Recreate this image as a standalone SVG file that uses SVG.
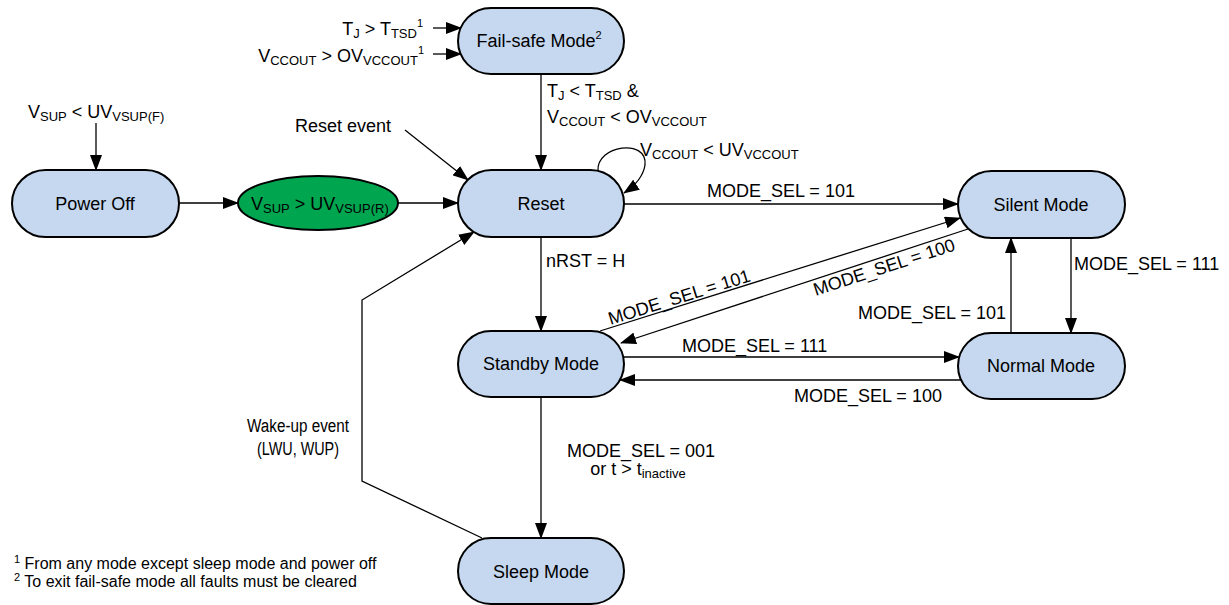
<svg xmlns="http://www.w3.org/2000/svg" width="1229" height="605" viewBox="0 0 1229 605">
<defs>
<marker id="ah" markerUnits="userSpaceOnUse" markerWidth="16" markerHeight="12" refX="15" refY="6" orient="auto">
<path d="M0 0 L16 6 L0 12 Z" fill="#000"/>
</marker>
<style>
text{font-family:"Liberation Sans",Arial,sans-serif;font-size:18px;fill:#000}
.node{fill:#c5d8ef;stroke:#000;stroke-width:2}
.green{fill:#00a550;stroke:#000;stroke-width:2}
.c{fill:none;stroke:#000;stroke-width:1.3;marker-end:url(#ah)}
.m{text-anchor:middle}
.e{text-anchor:end}
.s{font-size:13px}
.fn{font-size:16px}
.fs{font-size:11px}
</style>
</defs>
<g id="connectors">
<path class="c" d="M96 123 V170"/>
<path class="c" d="M179 203 H238"/>
<path class="c" d="M398 203 H458"/>
<path class="c" d="M405 130 L468 180"/>
<path class="c" d="M433 28 H461"/>
<path class="c" d="M433 54 H461"/>
<path class="c" d="M541 74 V170"/>
<path class="c" d="M598 171 C596 145 648 138 645 165 C643 178 633 187 624 193"/>
<path class="c" d="M541 237 V331"/>
<path class="c" d="M624 204 H958"/>
<path class="c" d="M600 331 L960 218"/>
<path class="c" d="M968 229 L621 343"/>
<path class="c" d="M623 357 H959"/>
<path class="c" d="M961 380 H620"/>
<path class="c" d="M1071 238 V333"/>
<path class="c" d="M1011 333 V238"/>
<path class="c" d="M541 397 V538"/>
<path class="c" d="M482 538 L362 481 V300 L474 232"/>
</g>
<g id="failsafe">
<rect class="node" x="458" y="8" width="166" height="66" rx="33"/>
<text x="539" y="47" class="m">Fail-safe Mode<tspan class="fs" dy="-8">2</tspan></text>
</g>
<g id="reset">
<rect class="node" x="458" y="170" width="166" height="67" rx="33.5"/>
<text x="541" y="210" class="m">Reset</text>
</g>
<g id="poweroff">
<rect class="node" x="12" y="170" width="167" height="67" rx="33.5"/>
<text x="95" y="210" class="m">Power Off</text>
</g>
<g id="vsup">
<ellipse class="green" cx="318" cy="203" rx="80" ry="27"/>
<text x="251" y="210">V<tspan class="s" dy="3">SUP</tspan><tspan dy="-3"> &gt; UV</tspan><tspan class="s" dy="3">VSUP(R)</tspan></text>
</g>
<g id="silent">
<rect class="node" x="958" y="171" width="167" height="67" rx="33.5"/>
<text x="1041" y="211" class="m">Silent Mode</text>
</g>
<g id="standby">
<rect class="node" x="458" y="331" width="166" height="66" rx="33"/>
<text x="541" y="370" class="m">Standby Mode</text>
</g>
<g id="normal">
<rect class="node" x="958" y="333" width="167" height="66" rx="33"/>
<text x="1041" y="372" class="m">Normal Mode</text>
</g>
<g id="sleep">
<rect class="node" x="458" y="538" width="166" height="66" rx="33"/>
<text x="541" y="578" class="m">Sleep Mode</text>
</g>
<g id="labels">
<text x="28" y="118">V<tspan class="s" dy="3">SUP</tspan><tspan dy="-3"> &lt; UV</tspan><tspan class="s" dy="3">VSUP(F)</tspan></text>
<text x="295" y="132">Reset event</text>
<text x="423" y="35" class="e">T<tspan class="s" dy="3">J</tspan><tspan dy="-3"> &gt; T</tspan><tspan class="s" dy="3">TSD</tspan><tspan class="fs" dy="-11">1</tspan></text>
<text x="424" y="62" class="e">V<tspan class="s" dy="3">CCOUT</tspan><tspan dy="-3"> &gt; OV</tspan><tspan class="s" dy="3">VCCOUT</tspan><tspan class="fs" dy="-11">1</tspan></text>
<text x="547" y="97">T<tspan class="s" dy="3">J</tspan><tspan dy="-3"> &lt; T</tspan><tspan class="s" dy="3">TSD</tspan><tspan dy="-3"> &amp;</tspan></text>
<text x="547" y="123">V<tspan class="s" dy="3">CCOUT</tspan><tspan dy="-3"> &lt; OV</tspan><tspan class="s" dy="3">VCCOUT</tspan></text>
<text x="640" y="156">V<tspan class="s" dy="3">CCOUT</tspan><tspan dy="-3"> &lt; UV</tspan><tspan class="s" dy="3">VCCOUT</tspan></text>
<text x="546" y="267">nRST = H</text>
<text x="707" y="197">MODE_SEL = 101</text>
<text x="681" y="303" class="m" transform="rotate(-17.4 681 303)">MODE_SEL = 101</text>
<text x="886" y="273" class="m" transform="rotate(-18.1 886 273)">MODE_SEL = 100</text>
<text x="682" y="352">MODE_SEL = 111</text>
<text x="794" y="402">MODE_SEL = 100</text>
<text x="1006" y="319" class="e">MODE_SEL = 101</text>
<text x="1074" y="270">MODE_SEL = 111</text>
<text x="298" y="432" class="m" textLength="102" lengthAdjust="spacingAndGlyphs">Wake-up event</text>
<text x="298" y="455" class="m" textLength="82" lengthAdjust="spacingAndGlyphs">(LWU, WUP)</text>
<text x="641" y="457" class="m">MODE_SEL = 001</text>
<text x="638" y="475" class="m">or t &gt; t<tspan class="s" dy="3">inactive</tspan></text>
<text x="14" y="569" class="fn"><tspan class="fs" dy="-6">1</tspan><tspan dy="6"> From any mode except sleep mode and power off</tspan></text>
<text x="14" y="587" class="fn"><tspan class="fs" dy="-6">2</tspan><tspan dy="6"> To exit fail-safe mode all faults must be cleared</tspan></text>
</g>
</svg>
